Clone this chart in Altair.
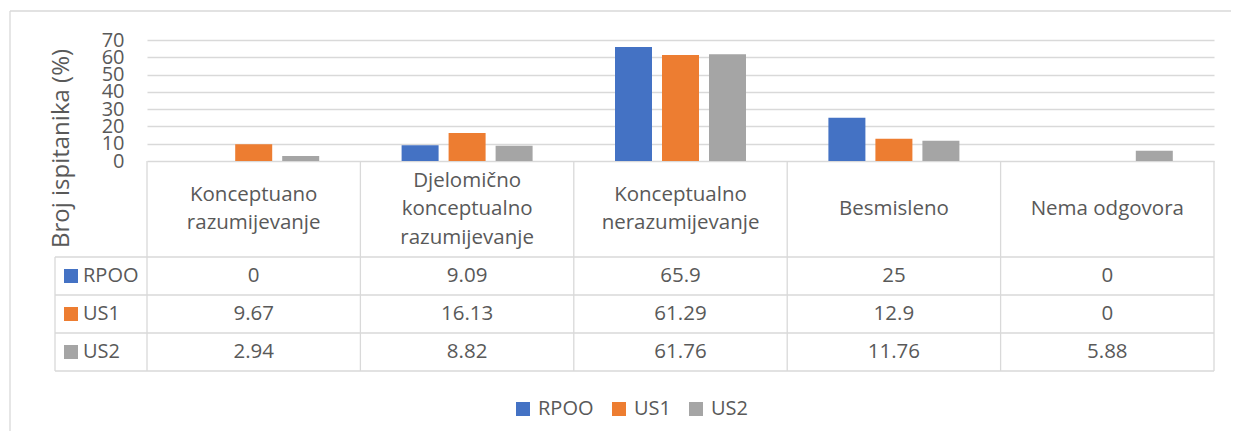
import altair as alt
import pandas as pd

# ---------------- data ----------------
CATEGORIES = ["Konceptuano razumijevanje", "Djelomično konceptualno razumijevanje",
              "Konceptualno nerazumijevanje", "Besmisleno", "Nema odgovora"]
HEADER_LABELS = ["Konceptuano\nrazumijevanje", "Djelomično\nkonceptualno\nrazumijevanje",
                 "Konceptualno\nnerazumijevanje", "Besmisleno", "Nema odgovora"]
SERIES = ["RPOO", "US1", "US2"]
RPOO = [0, 9.09, 65.9, 25, 0]
US1 = [9.67, 16.13, 61.29, 12.9, 0]
US2 = [2.94, 8.82, 61.76, 11.76, 5.88]
VALUES = [RPOO, US1, US2]
Y_TICKS = [0, 10, 20, 30, 40, 50, 60, 70]
COLORS = ["#4472C4", "#ED7D31", "#A5A5A5"]
Y_TITLE = "Broj ispitanika (%)"

# ---------------- layout / style ----------------
TXT = "#595959"
LINE = "#D9D9D9"
FONT = "Open Sans"
PX_PER_PCT = 121 / 70
COL_PX = 213.4
LABEL_COL_PX = 92
HEADER_PX = 96
ROW_PX = 38
LINE_H = 28.5
BAR_PX = 37
BAR_STEP_PX = 47
N = len(CATEGORIES)
NS = len(SERIES)
Y_MAX = max(Y_TICKS)
W = N * COL_PX
H = Y_MAX * PX_PER_PCT
X_MIN = -LABEL_COL_PX / COL_PX           # left edge of the row-name column
HB = -HEADER_PX / PX_PER_PCT              # header bottom in y units
ROW_U = ROW_PX / PX_PER_PCT
Y_BOTTOM = HB - NS * ROW_U


def row_center(i):
    return HB - (i + 0.5) * ROW_U


XS = alt.Scale(domain=[0, N], nice=False, zero=False)
YS = alt.Scale(domain=[0, Y_MAX], nice=False, zero=False)
CS = alt.Scale(domain=SERIES, range=COLORS)

Y_AXIS = alt.Axis(values=Y_TICKS, domain=False, ticks=False,
                  grid=True, gridColor=LINE, gridWidth=1.3,
                  labelFontSize=20, labelFont=FONT, labelColor=TXT, labelPadding=23,
                  labelOverlap=False, title=Y_TITLE, titleFont=FONT, titleFontSize=24,
                  titleFontWeight="normal", titleColor=TXT, titleAngle=270, titleX=-86,
                  titleY=108, titleAlign="center", titleBaseline="middle")


def X(f):
    return alt.X(f, type="quantitative", scale=XS, axis=None)


def Y(f):
    return alt.Y(f, type="quantitative", scale=YS, axis=Y_AXIS)


# ---------------- tables ----------------
bar_rows, val_rows, lab_rows = [], [], []
for si, s in enumerate(SERIES):
    lab_rows.append({"series": s, "x": X_MIN, "y": row_center(si)})
    for ci, c in enumerate(CATEGORIES):
        v = VALUES[si][ci]
        cx = ci + 0.5 + (si - (NS - 1) / 2) * BAR_STEP_PX / COL_PX
        bar_rows.append({"series": s, "cat": c, "value": v, "y0": 0,
                         "x0": cx - BAR_PX / 2 / COL_PX, "x1": cx + BAR_PX / 2 / COL_PX})
        val_rows.append({"x": ci + 0.5, "y": row_center(si), "text": f"{v:g}"})
bar_df = pd.DataFrame(bar_rows)
val_df = pd.DataFrame(val_rows)
lab_df = pd.DataFrame(lab_rows)
n_lines = [len(t.split("\n")) for t in HEADER_LABELS]
head_df = pd.DataFrame({
    "x": [i + 0.5 for i in range(N)],
    "y": [HB / 2 + (n - 1) / 2 * LINE_H / PX_PER_PCT for n in n_lines],
    "text": HEADER_LABELS})
hl_df = pd.DataFrame({"y": [HB - i * ROW_U for i in range(NS + 1)],
                      "x0": [X_MIN] * (NS + 1), "x1": [N] * (NS + 1)})
vl_df = pd.DataFrame({"x": [float(i) for i in range(N + 1)] + [X_MIN],
                      "y0": [0.0] * (N + 1) + [HB],
                      "y1": [Y_BOTTOM] * (N + 2)})

# ---------------- layers ----------------
bars = alt.Chart(bar_df).mark_bar().encode(
    x=X("x0"), x2=alt.X2("x1"), y=Y("value"), y2=alt.Y2("y0"),
    color=alt.Color("series:N", scale=CS, legend=alt.Legend(
        orient="none", legendX=366, legendY=359, direction="horizontal", title=None,
        symbolType="square", symbolSize=196, symbolStrokeWidth=0, labelFont=FONT,
        labelFontSize=20, labelColor=TXT, labelOffset=5, columnPadding=15, padding=0)))

hlines = alt.Chart(hl_df).mark_rule(color=LINE, strokeWidth=1.3).encode(
    x=X("x0"), x2=alt.X2("x1"), y=Y("y"))
vlines = alt.Chart(vl_df).mark_rule(color=LINE, strokeWidth=1.3).encode(
    x=X("x"), y=Y("y0"), y2=alt.Y2("y1"))

header = alt.Chart(head_df).mark_text(font=FONT, fontSize=20.5, color=TXT, align="center",
                                      baseline="middle", lineBreak="\n", lineHeight=LINE_H).encode(
    x=X("x"), y=Y("y"), text="text:N")

values = alt.Chart(val_df).mark_text(font=FONT, fontSize=20.5, color=TXT, align="center",
                                     baseline="middle").encode(
    x=X("x"), y=Y("y"), text="text:N")

squares = alt.Chart(lab_df).mark_square(size=196, opacity=1, xOffset=16).encode(
    x=X("x"), y=Y("y"), color=alt.Color("series:N", scale=CS, legend=None))

labels = alt.Chart(lab_df).mark_text(font=FONT, fontSize=20, color=TXT, align="left",
                                     baseline="middle", dx=28).encode(
    x=X("x"), y=Y("y"), text="series:N")

# outer chart-area frame (left and top edges; the rest lies outside the picture)
frame_src = pd.DataFrame({"k": [0]})
frame_left = alt.Chart(frame_src).mark_rule(color=LINE, strokeWidth=1.3).encode(
    x=alt.value(-137), y=alt.value(-29), y2=alt.value(H + 320))
frame_top = alt.Chart(frame_src).mark_rule(color=LINE, strokeWidth=1.3).encode(
    x=alt.value(-137), x2=alt.value(W + 40), y=alt.value(-29))

chart = alt.layer(bars, hlines, vlines, header, values, squares, labels,
                  frame_left, frame_top).properties(
    width=W, height=H,
    autosize=alt.AutoSizeParams(type="none"),
    padding={"left": 139, "top": 32, "right": 17, "bottom": 270},
).configure(font=FONT).configure_view(strokeWidth=0)

chart.save("out.html", embed_options={"renderer": "svg", "actions": False})
